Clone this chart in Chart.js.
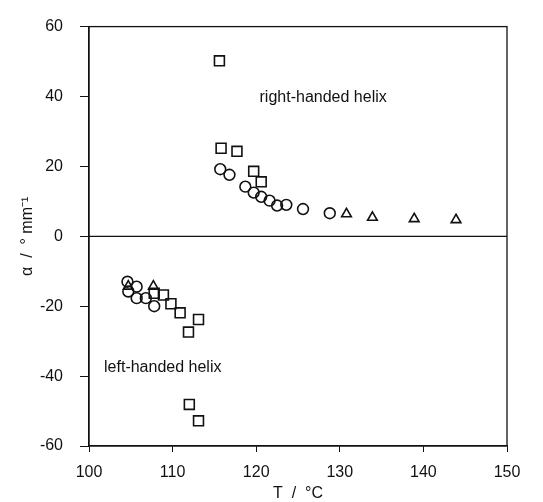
<!DOCTYPE html>
<html>
<head>
<meta charset="utf-8">
<script src="https://cdn.jsdelivr.net/npm/chart.js@4/dist/chart.umd.min.js"></script>
<style>
  html, body { margin: 0; padding: 0; background: #fff; }
  #wrap { width: 543px; height: 502px; }
</style>
</head>
<body>
<div id="wrap"><canvas id="chart" width="543" height="502"></canvas></div>
<script>
// --- data ---
const squareT     = [115.6, 115.8, 117.7, 119.7, 120.6, 107.8, 108.9, 109.8, 110.9, 111.9, 113.1, 112.0, 113.1];
const squareAlpha = [50.2, 25.2, 24.3, 18.6, 15.6, -16.3, -16.8, -19.3, -21.9, -27.4, -23.8, -48.1, -52.8];

const circleT     = [115.7, 116.8, 118.7, 119.7, 120.6, 121.6, 122.5, 123.6, 125.6, 128.8, 104.6, 104.7, 105.7, 105.7, 106.8, 107.8];
const circleAlpha = [19.2, 17.6, 14.2, 12.5, 11.3, 10.2, 8.8, 9.0, 7.8, 6.6, -13.0, -15.8, -14.4, -17.7, -17.7, -20.0];

const triangleT     = [130.8, 133.9, 138.9, 143.9, 104.7, 107.7];
const triangleAlpha = [6.4, 5.4, 5.0, 4.7, -14.3, -14.3];

const xTicks = [100, 110, 120, 130, 140, 150];
const yTicks = [-60, -40, -20, 0, 20, 40, 60];

const labels = [
    { text: 'right-handed helix', x: 120.4, y: 39.8 },
    { text: 'left-handed helix',  x: 101.8, y: -37.5 }
];

const FONT = '"Liberation Sans", Arial, Helvetica, sans-serif';

function toPoints(xs, ys) {
    return xs.map((x, i) => ({ x: x, y: ys[i] }));
}

function markerSet(name, xs, ys, style, radius) {
    return {
        label: name,
        data: toPoints(xs, ys),
        pointStyle: style,
        pointRadius: radius,
        pointBackgroundColor: 'rgba(255,255,255,0)',
        pointBorderColor: '#111',
        pointBorderWidth: 1.6,
        showLine: false
    };
}

// frame, zero line and the two text labels
const extras = {
    id: 'extras',
    afterDatasetsDraw(chart) {
        const { ctx, chartArea: a, scales: { x, y } } = chart;
        ctx.save();
        ctx.strokeStyle = '#111';
        ctx.lineWidth = 1.3;
        ctx.strokeRect(a.left, a.top, a.right - a.left, a.bottom - a.top);
        ctx.beginPath();
        ctx.moveTo(a.left, y.getPixelForValue(0));
        ctx.lineTo(a.right, y.getPixelForValue(0));
        ctx.stroke();
        ctx.fillStyle = '#111';
        ctx.font = '16px ' + FONT;
        ctx.textBaseline = 'middle';
        ctx.textAlign = 'left';
        labels.forEach(l => {
            ctx.fillText(l.text, x.getPixelForValue(l.x), y.getPixelForValue(l.y));
        });
        ctx.restore();
    }
};

new Chart(document.getElementById('chart'), {
    type: 'scatter',
    data: {
        datasets: [
            markerSet('squares', squareT, squareAlpha, 'rect', 7),
            markerSet('circles', circleT, circleAlpha, 'circle', 5.4),
            markerSet('triangles', triangleT, triangleAlpha, 'triangle', 5.6)
        ]
    },
    options: {
        responsive: false,
        animation: false,
        layout: { padding: { top: 20, right: 36, left: 0, bottom: 0 } },
        plugins: { legend: { display: false }, tooltip: { enabled: false } },
        scales: {
            x: {
                type: 'linear', min: 100, max: 150,
                afterBuildTicks: s => { s.ticks = xTicks.map(v => ({ value: v })); },
                afterFit: s => { s.height = 56; },
                grid: { drawOnChartArea: false, color: '#111', tickLength: 6, lineWidth: 1 },
                border: { color: '#111', width: 1.3 },
                ticks: { color: '#111', font: { family: FONT, size: 16 }, padding: 11, maxRotation: 0 },
                title: {
                    display: true, text: 'T  /  °C', color: '#111',
                    font: { family: FONT, size: 16, lineHeight: 1 }, padding: 0
                }
            },
            y: {
                type: 'linear', min: -60, max: 60,
                afterBuildTicks: s => { s.ticks = yTicks.map(v => ({ value: v })); },
                afterFit: s => { s.width = 89; },
                grid: { drawOnChartArea: false, color: '#111', tickLength: 9, lineWidth: 1 },
                border: { color: '#111', width: 1.3 },
                ticks: { color: '#111', font: { family: FONT, size: 16 }, padding: 17 },
                title: {
                    display: true, text: 'α  /  ° mm⁻¹', color: '#111',
                    font: { family: FONT, size: 16, lineHeight: 1 }, padding: { top: 20 }
                }
            }
        }
    },
    plugins: [extras]
});
</script>
</body>
</html>
